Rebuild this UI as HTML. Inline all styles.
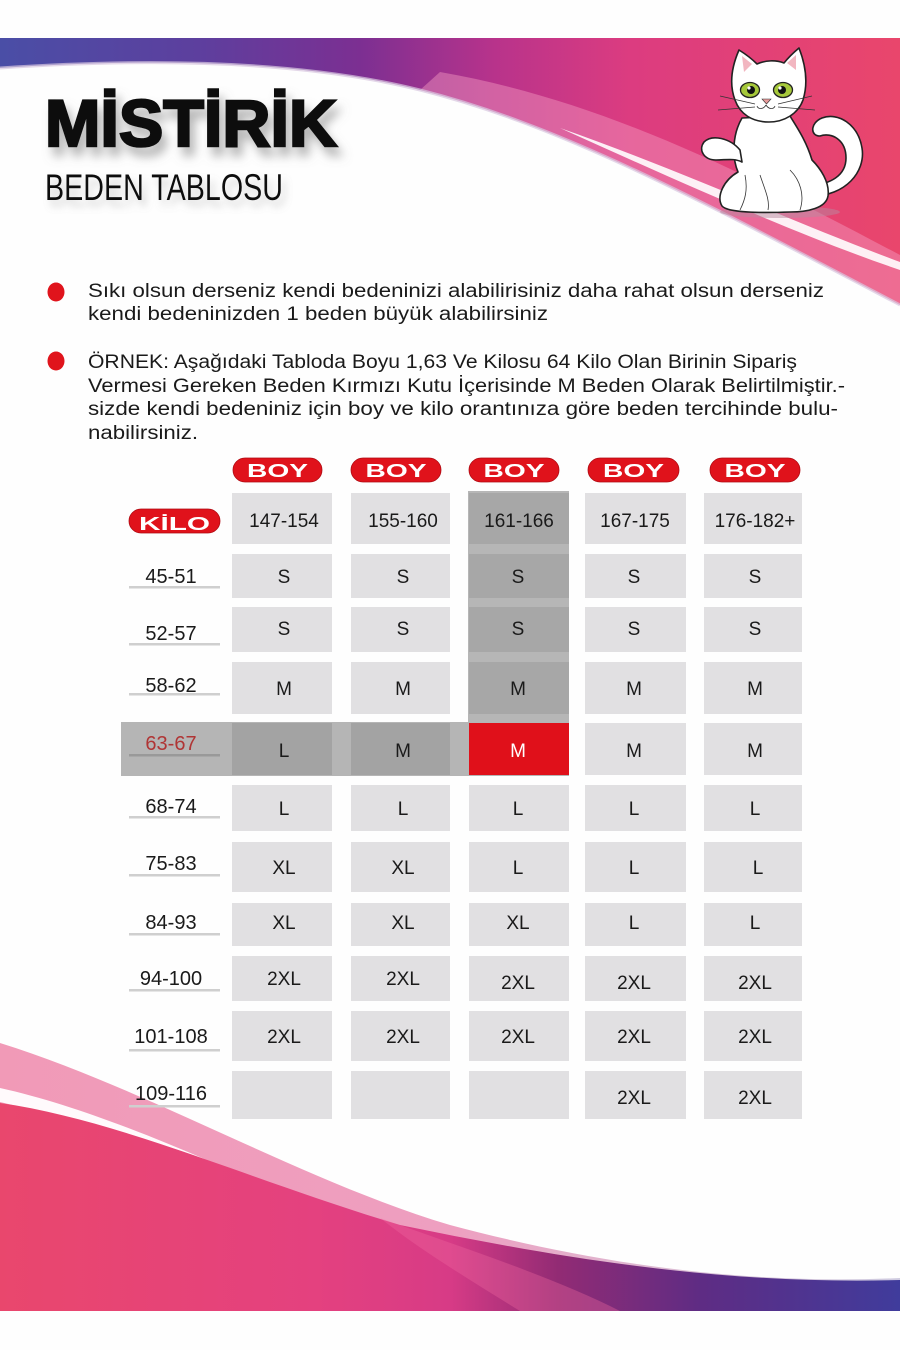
<!DOCTYPE html>
<html><head><meta charset="utf-8"><style>
html,body{margin:0;padding:0;background:#fff;}
svg{display:block;}
text{font-family:"Liberation Sans",sans-serif;}
</style></head><body>
<svg width="900" height="1350" viewBox="0 0 900 1350" xmlns="http://www.w3.org/2000/svg">
<defs>
<linearGradient id="tg" x1="0" y1="0" x2="900" y2="0" gradientUnits="userSpaceOnUse">
<stop offset="0" stop-color="#4a4ea6"/><stop offset="0.22" stop-color="#5d3f9e"/><stop offset="0.4" stop-color="#7c2f92"/><stop offset="0.55" stop-color="#b8338b"/><stop offset="0.7" stop-color="#dc3c80"/><stop offset="1" stop-color="#e9466c"/>
</linearGradient>
<linearGradient id="bg" x1="0" y1="0" x2="900" y2="0" gradientUnits="userSpaceOnUse">
<stop offset="0" stop-color="#e9476d"/><stop offset="0.35" stop-color="#e4417f"/><stop offset="0.5" stop-color="#d73b86"/><stop offset="0.62" stop-color="#922b74"/><stop offset="0.78" stop-color="#5e2c84"/><stop offset="1" stop-color="#403c9c"/>
</linearGradient>
<linearGradient id="bl" x1="0" y1="0" x2="900" y2="0" gradientUnits="userSpaceOnUse">
<stop offset="0" stop-color="#f19ab7"/><stop offset="0.5" stop-color="#ee9fc0"/><stop offset="0.8" stop-color="#d8c2d8"/><stop offset="1" stop-color="#cfcbe0"/>
</linearGradient>
<filter id="sh" x="-10%" y="-30%" width="130%" height="180%"><feDropShadow dx="5" dy="9" stdDeviation="5" flood-color="#777" flood-opacity="0.55"/></filter>
<filter id="sh2" x="-10%" y="-30%" width="130%" height="180%"><feDropShadow dx="4" dy="6" stdDeviation="4" flood-color="#888" flood-opacity="0.4"/></filter>
</defs>
<rect width="900" height="1350" fill="#fefefe"/>

<!-- top wave -->
<path d="M0,38 H900 V305 C700,200 560,125 420,90 C300,60 150,58 0,68 Z" fill="url(#tg)"/>
<path d="M420,90 C560,125 700,200 900,305 L900,255 C740,170 600,100 440,72 Z" fill="#f59cc0" opacity="0.45"/>
<path d="M560,128 C680,170 800,225 900,262 L900,270 C800,236 680,182 560,128 Z" fill="#fff" opacity="0.9"/>
<path d="M0,68 C150,58 300,60 420,90 C560,125 700,200 900,305" fill="none" stroke="#d9c8e0" stroke-width="3" opacity="0.7"/>

<!-- bottom wave -->
<path d="M0,1043 C150,1090 300,1180 450,1225 C600,1265 750,1285 900,1278 L900,1311 L0,1311 Z" fill="url(#bl)"/>
<path d="M0,1088 C100,1110 220,1165 330,1215 C220,1175 100,1125 0,1102 Z" fill="#fff" opacity="0.95"/>
<path d="M0,1103 C120,1120 250,1180 400,1225 C560,1258 720,1285 900,1280 L900,1311 L0,1311 Z" fill="url(#bg)"/>
<path d="M380,1218 C470,1250 560,1280 620,1311 L520,1311 C470,1280 420,1250 380,1218 Z" fill="#f06aa0" opacity="0.35"/>

<!-- cat -->
<ellipse cx="780" cy="212" rx="60" ry="6" fill="#b88aa0" opacity="0.5"/>
<g stroke="#222" stroke-width="1.6" fill="#fff" stroke-linejoin="round">
<path d="M812,196 C845,196 866,172 862,148 C858,124 838,112 822,118 C810,123 810,136 820,136 C832,132 846,140 846,158 C846,176 830,184 810,186 Z"/>
<path d="M742,118 C732,135 732,158 738,172 C724,180 716,196 722,206 C728,213 760,213 790,212 C808,212 826,208 828,196 C830,182 820,168 812,160 C806,140 796,126 790,116 Z"/>
<path d="M740,150 C730,138 712,134 704,142 C698,150 704,160 716,160 C726,160 734,158 742,162 Z"/>
<path d="M735,100 C729,84 732,66 739,50 C747,55 753,60 757,64 C766,60 776,60 784,63 C788,58 793,53 799,48 C806,66 808,84 803,100 C798,114 784,122 769,122 C752,122 740,114 735,100 Z"/>
</g>
<path d="M742,56 L752,64 L744,72 Z M796,55 L787,63 L796,70 Z" fill="#f2b6c0"/>
<ellipse cx="750" cy="90" rx="9.5" ry="7.5" fill="#a6c83a" stroke="#222" stroke-width="1.3"/>
<ellipse cx="783" cy="90" rx="9.5" ry="7.5" fill="#a6c83a" stroke="#222" stroke-width="1.3"/>
<circle cx="751" cy="90" r="4" fill="#111"/><circle cx="782" cy="90" r="4" fill="#111"/>
<circle cx="749" cy="88" r="1.6" fill="#fff"/><circle cx="780" cy="88" r="1.6" fill="#fff"/>
<path d="M762,99 L771,99 L766.5,104 Z" fill="#e89a9a" stroke="#333" stroke-width="0.6"/>
<g stroke="#333" stroke-width="0.8" fill="none">
<path d="M766,105 C763,110 758,109 757,106 M766,105 C769,110 774,109 775,106"/>
<path d="M755,104 L720,96 M755,107 L718,110 M778,104 L812,96 M778,107 L815,110"/>
<path d="M760,175 C765,190 770,200 768,210 M790,170 C800,180 805,195 800,210 M745,175 C748,190 745,200 740,210"/>
</g>

<!-- title -->
<text x="45" y="146" font-size="66" font-weight="bold" fill="#111" stroke="#111" stroke-width="2.5" textLength="292" lengthAdjust="spacingAndGlyphs" filter="url(#sh)">MİSTİRİK</text>
<text x="45" y="200" font-size="37" fill="#111" textLength="238" lengthAdjust="spacingAndGlyphs" filter="url(#sh2)">BEDEN TABLOSU</text>

<!-- bullets -->
<ellipse cx="56" cy="292" rx="8.5" ry="9.5" fill="#e0141c"/>
<ellipse cx="56" cy="361" rx="8.5" ry="9.5" fill="#e0141c"/>
<g font-size="19" fill="#1a1a1a">
<text x="88" y="297" textLength="736" lengthAdjust="spacingAndGlyphs">Sıkı olsun derseniz kendi bedeninizi alabilirisiniz daha rahat olsun derseniz</text>
<text x="88" y="320" textLength="460" lengthAdjust="spacingAndGlyphs">kendi bedeninizden 1 beden büyük alabilirsiniz</text>
<text x="88" y="368" textLength="709" lengthAdjust="spacingAndGlyphs">ÖRNEK: Aşağıdaki Tabloda Boyu 1,63 Ve Kilosu 64 Kilo Olan Birinin Sipariş</text>
<text x="88" y="392" textLength="757" lengthAdjust="spacingAndGlyphs">Vermesi Gereken Beden Kırmızı Kutu İçerisinde M Beden Olarak Belirtilmiştir.-</text>
<text x="88" y="415" textLength="750" lengthAdjust="spacingAndGlyphs">sizde kendi bedeniniz için boy ve kilo orantınıza göre beden tercihinde bulu-</text>
<text x="88" y="439" textLength="110" lengthAdjust="spacingAndGlyphs">nabilirsiniz.</text>
</g>

<!-- BOY pills -->
<g fill="#e0121b" stroke="#b00a12" stroke-width="0.8">
<rect x="233" y="458" width="89" height="24" rx="12"/>
<rect x="351" y="458" width="90" height="24" rx="12"/>
<rect x="469" y="458" width="90" height="24" rx="12"/>
<rect x="588" y="458" width="91" height="24" rx="12"/>
<rect x="710" y="458" width="90" height="24" rx="12"/>
<rect x="129" y="509" width="91" height="24" rx="12"/>
</g>
<g font-size="18" font-weight="bold" fill="#fff" text-anchor="middle">
<text x="277.5" y="477" textLength="61" lengthAdjust="spacingAndGlyphs">BOY</text>
<text x="396" y="477" textLength="61" lengthAdjust="spacingAndGlyphs">BOY</text>
<text x="514" y="477" textLength="61" lengthAdjust="spacingAndGlyphs">BOY</text>
<text x="633.5" y="477" textLength="61" lengthAdjust="spacingAndGlyphs">BOY</text>
<text x="755" y="477" textLength="61" lengthAdjust="spacingAndGlyphs">BOY</text>
<text x="174.5" y="530" textLength="71" lengthAdjust="spacingAndGlyphs">KİLO</text>
</g>

<!-- dark column & band -->
<rect x="468" y="491" width="101" height="231" fill="#b6b6b6"/>
<rect x="121" y="722" width="448" height="54" fill="#b5b5b5"/>

<!-- cells -->
<g fill="#e1e0e2">
<rect x="232" y="493" width="100" height="51"/><rect x="351" y="493" width="99" height="51"/><rect x="585" y="493" width="101" height="51"/><rect x="704" y="493" width="98" height="51"/>
<rect x="232" y="554" width="100" height="44"/><rect x="351" y="554" width="99" height="44"/><rect x="585" y="554" width="101" height="44"/><rect x="704" y="554" width="98" height="44"/>
<rect x="232" y="607" width="100" height="45"/><rect x="351" y="607" width="99" height="45"/><rect x="585" y="607" width="101" height="45"/><rect x="704" y="607" width="98" height="45"/>
<rect x="232" y="662" width="100" height="52"/><rect x="351" y="662" width="99" height="52"/><rect x="585" y="662" width="101" height="52"/><rect x="704" y="662" width="98" height="52"/>
<rect x="585" y="723" width="101" height="52"/><rect x="704" y="723" width="98" height="52"/>
<rect x="232" y="785" width="100" height="46"/><rect x="351" y="785" width="99" height="46"/><rect x="469" y="785" width="100" height="46"/><rect x="585" y="785" width="101" height="46"/><rect x="704" y="785" width="98" height="46"/>
<rect x="232" y="842" width="100" height="50"/><rect x="351" y="842" width="99" height="50"/><rect x="469" y="842" width="100" height="50"/><rect x="585" y="842" width="101" height="50"/><rect x="704" y="842" width="98" height="50"/>
<rect x="232" y="903" width="100" height="43"/><rect x="351" y="903" width="99" height="43"/><rect x="469" y="903" width="100" height="43"/><rect x="585" y="903" width="101" height="43"/><rect x="704" y="903" width="98" height="43"/>
<rect x="232" y="956" width="100" height="45"/><rect x="351" y="956" width="99" height="45"/><rect x="469" y="956" width="100" height="45"/><rect x="585" y="956" width="101" height="45"/><rect x="704" y="956" width="98" height="45"/>
<rect x="232" y="1011" width="100" height="50"/><rect x="351" y="1011" width="99" height="50"/><rect x="469" y="1011" width="100" height="50"/><rect x="585" y="1011" width="101" height="50"/><rect x="704" y="1011" width="98" height="50"/>
<rect x="232" y="1071" width="100" height="48"/><rect x="351" y="1071" width="99" height="48"/><rect x="469" y="1071" width="100" height="48"/><rect x="585" y="1071" width="101" height="48"/><rect x="704" y="1071" width="98" height="48"/>
</g>
<g fill="#a7a7a7">
<rect x="469" y="493" width="100" height="51"/><rect x="469" y="554" width="100" height="44"/><rect x="469" y="607" width="100" height="45"/><rect x="469" y="662" width="100" height="52"/>
</g>
<rect x="232" y="723" width="100" height="52" fill="#a3a3a3"/>
<rect x="351" y="723" width="99" height="52" fill="#a3a3a3"/>
<rect x="469" y="723" width="100" height="52" fill="#e0101a"/>

<!-- underlines -->
<g fill="#cfcfcf">
<rect x="129" y="586" width="91" height="2.5"/><rect x="129" y="643" width="91" height="2.5"/><rect x="129" y="693" width="91" height="2.5"/>
<rect x="129" y="816" width="91" height="2.5"/><rect x="129" y="874" width="91" height="2.5"/><rect x="129" y="933" width="91" height="2.5"/>
<rect x="129" y="989" width="91" height="2.5"/><rect x="129" y="1049" width="91" height="2.5"/><rect x="129" y="1105" width="91" height="2.5"/>
</g>
<rect x="129" y="754" width="91" height="2.5" fill="#999"/>

<!-- labels -->
<g font-size="20" fill="#1a1a1a" text-anchor="middle">
<text x="171" y="583">45-51</text>
<text x="171" y="640">52-57</text>
<text x="171" y="692">58-62</text>
<text x="171" y="750" fill="#b03535">63-67</text>
<text x="171" y="813">68-74</text>
<text x="171" y="870">75-83</text>
<text x="171" y="929">84-93</text>
<text x="171" y="985">94-100</text>
<text x="171" y="1043">101-108</text>
<text x="171" y="1100">109-116</text>
</g>

<!-- cell texts -->
<g font-size="19" fill="#1a1a1a" text-anchor="middle">
<text x="284" y="527">147-154</text><text x="403" y="527">155-160</text><text x="519" y="527">161-166</text><text x="635" y="527">167-175</text><text x="755" y="527">176-182+</text>
<text x="284" y="583">S</text><text x="403" y="583">S</text><text x="518" y="583">S</text><text x="634" y="583">S</text><text x="755" y="583">S</text>
<text x="284" y="635">S</text><text x="403" y="635">S</text><text x="518" y="635">S</text><text x="634" y="635">S</text><text x="755" y="635">S</text>
<text x="284" y="695">M</text><text x="403" y="695">M</text><text x="518" y="695">M</text><text x="634" y="695">M</text><text x="755" y="695">M</text>
<text x="284" y="757">L</text><text x="403" y="757">M</text><text x="518" y="757" fill="#fff">M</text><text x="634" y="757">M</text><text x="755" y="757">M</text>
<text x="284" y="815">L</text><text x="403" y="815">L</text><text x="518" y="815">L</text><text x="634" y="815">L</text><text x="755" y="815">L</text>
<text x="284" y="874">XL</text><text x="403" y="874">XL</text><text x="518" y="874">L</text><text x="634" y="874">L</text><text x="758" y="874">L</text>
<text x="284" y="929">XL</text><text x="403" y="929">XL</text><text x="518" y="929">XL</text><text x="634" y="929">L</text><text x="755" y="929">L</text>
<text x="284" y="985">2XL</text><text x="403" y="985">2XL</text><text x="518" y="989">2XL</text><text x="634" y="989">2XL</text><text x="755" y="989">2XL</text>
<text x="284" y="1043">2XL</text><text x="403" y="1043">2XL</text><text x="518" y="1043">2XL</text><text x="634" y="1043">2XL</text><text x="755" y="1043">2XL</text>
<text x="634" y="1104">2XL</text><text x="755" y="1104">2XL</text>
</g>
</svg>
</body></html>
